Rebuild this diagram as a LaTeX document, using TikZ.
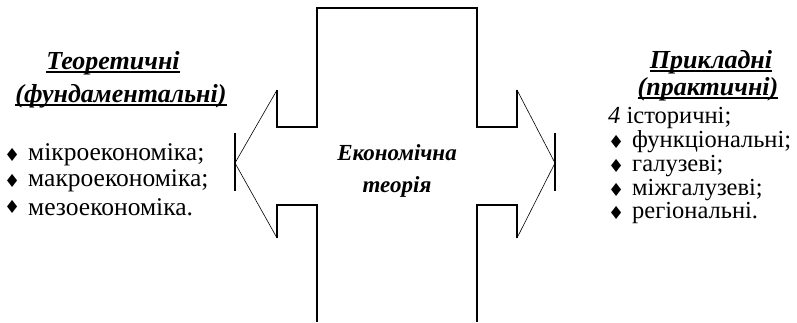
\documentclass[tikz,border=0pt]{standalone}
\usepackage{fontspec}
\setmainfont{Liberation Serif}
\newfontfamily\symfont{DejaVu Sans}
\usetikzlibrary{positioning}

\newcommand{\dia}{{\symfont\fontsize{18}{18}\selectfont ♦}}
\newcommand{\uln}[1]{\setbox0\hbox{#1}\rlap{\rule[-4pt]{\wd0}{1.8pt}}\box0}

\tikzset{
  outline/.style={line width=1.6pt, line join=miter},
  diag/.style={line width=0.6pt},
  head/.style={font=\fontsize{26}{28}\selectfont\bfseries\itshape, inner sep=0pt},
  item/.style={font=\fontsize{25.5}{28}\selectfont, anchor=west, inner sep=0pt},
  itemr/.style={item, font=\fontsize{24.5}{28}\selectfont},
  bul/.style={anchor=west, inner sep=0pt},
  centre/.style={font=\fontsize{23}{32}\selectfont\bfseries\itshape, align=center, inner sep=0pt}
}

\begin{document}
\begin{tikzpicture}[x=1pt, y={(0pt,-1pt)}]
\useasboundingbox (0,0) rectangle (797,322);

% cross with two arrows
\coordinate (tipL) at (235,163);
\coordinate (nL1) at (277,90);
\coordinate (aL1) at (277,127);
\coordinate (bTL) at (317,127);
\coordinate (bTL2) at (317,8);
\coordinate (bTR) at (477,8);
\coordinate (aR1) at (477,127);
\coordinate (nR0) at (517,127);
\coordinate (nR1) at (517,90);
\coordinate (tipR) at (555,163);
\coordinate (nR2) at (517,238);
\coordinate (nR3) at (517,205);
\coordinate (bBR) at (477,205);
\coordinate (bBRe) at (477,322);
\coordinate (bBLe) at (317,322);
\coordinate (bBL) at (317,205);
\coordinate (aL2) at (277,205);
\coordinate (nL2) at (277,238);

\draw[outline] (bBLe) -- (bBL) -- (aL2) -- (nL2);
\draw[diag] (nL2) -- (tipL) -- (nL1);
\draw[outline] (nL1) -- (aL1) -- (bTL) -- (bTL2) -- (bTR) -- (aR1) -- (nR0) -- (nR1);
\draw[diag] (nR1) -- (tipR) -- (nR2);
\draw[outline] (nR2) -- (nR3) -- (bBR) -- (bBRe);
\draw[line width=2.4pt] (bTL2) -- (bTR);
\draw[line width=1.4pt] ([yshift=-28pt]tipL) -- ([yshift=30pt]tipL);
\draw[line width=1.4pt] ([yshift=-28pt]tipR) -- ([yshift=30pt]tipR);

\node[centre] (eco) at (397,171) {Економічна\\теорія};

% left side
\node[head] (t1) at (113,63) {\uln{Теоретичні}};
\node[head] (t2) at (121,96) {\uln{(фундаментальні)}};

\node[bul] (m1) at (4,155) {\dia};
\node[bul] (m2) at (4,181) {\dia};
\node[bul] (m3) at (4,207) {\dia};
\node[item] (l1) at (28,155) {мікроекономіка;};
\node[item] (l2) at (28,181) {макроекономіка;};
\node[item] (l3) at (28,207) {мезоекономіка.};

% right side
\node[head] (p1) at (711,62) {\uln{Прикладні}};
\node[head] (p2) at (708,89) {\uln{(практичні)}};

\node[itemr] (r1) at (608,118) {\textit{4} історичні;};
\node[bul] (n2) at (608,142) {\dia};
\node[bul] (n3) at (608,166) {\dia};
\node[bul] (n4) at (608,190) {\dia};
\node[bul] (n5) at (608,213) {\dia};
\node[itemr] (r2) at (632,142) {функціональні;};
\node[itemr] (r3) at (632,166) {галузеві;};
\node[itemr] (r4) at (632,190) {міжгалузеві;};
\node[itemr] (r5) at (632,213) {регіональні.};
\end{tikzpicture}
\end{document}
